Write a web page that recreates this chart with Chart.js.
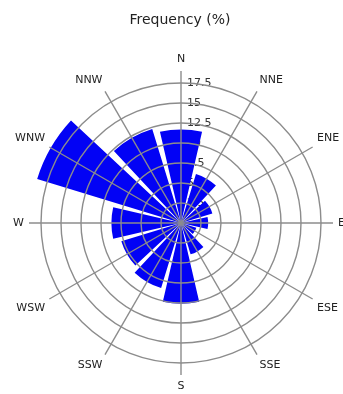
<!DOCTYPE html>
<html>
<head>
<meta charset="utf-8">
<title>Frequency (%)</title>
<script src="https://cdn.jsdelivr.net/npm/chart.js@4.4.1/dist/chart.umd.min.js"></script>
<style>
  html, body { margin: 0; padding: 0; background: #ffffff; overflow: hidden; }
  #wrap { width: 343px; height: 394px; overflow: hidden; position: relative; }
  canvas { position: absolute; left: 0; top: 0; }
</style>
</head>
<body>
<div id="wrap"><canvas id="rose" width="370" height="394"></canvas></div>
<script>
// Wind directions, clockwise from north (30° sectors)
const DIRECTIONS = ['N', 'NNE', 'ENE', 'E', 'ESE', 'SSE', 'S', 'SSW', 'WSW', 'W', 'WNW', 'NNW'];
// Frequency of each direction, in percent
const FREQUENCY = [11.7, 6.4, 4.1, 3.4, 2.0, 4.1, 10.1, 8.5, 7.8, 8.7, 18.8, 12.3];
// Ring labels along the north spoke
const RING_TICKS = ['2.5', '5', '7.5', '10', '12.5', '15', '17.5'];
const RADIAL_MAX = 19;

const FONT = 'DejaVu Sans';
const GRID = '#8c8c8c';
const BAR_COLOR = 'rgb(2,2,245)';
const BAR_SHARE = 26 / 30; // part of each sector filled by its bar

// Centre every bar on its direction and leave a wedge-shaped gap between bars
const centredSectors = {
  id: 'centredSectors',
  afterDatasetsUpdate(chart) {
    chart.getDatasetMeta(0).data.forEach(arc => {
      const half = (arc.endAngle - arc.startAngle) / 2 * BAR_SHARE;
      const dir = arc.startAngle;
      arc.startAngle = dir - half;
      arc.endAngle = dir + half;
    });
  }
};

// Ring values printed just right of the north spoke, beneath the bars
const ringLabels = {
  id: 'ringLabels',
  beforeDatasetsDraw(chart) {
    const s = chart.scales.r;
    const ctx = chart.ctx;
    ctx.save();
    ctx.font = '11px "' + FONT + '"';
    ctx.fillStyle = '#333333';
    ctx.textAlign = 'left';
    ctx.textBaseline = 'middle';
    RING_TICKS.forEach(t => {
      const d = s.getDistanceFromCenterForValue(parseFloat(t));
      ctx.fillText(t, s.xCenter + 6, s.yCenter - d);
    });
    ctx.restore();
  }
};

new Chart(document.getElementById('rose'), {
  type: 'polarArea',
  data: {
    labels: DIRECTIONS,
    datasets: [{
      data: FREQUENCY,
      backgroundColor: BAR_COLOR,
      borderWidth: 0
    }]
  },
  options: {
    responsive: false,
    animation: false,
    events: [],
    layout: { padding: { left: 0, right: 10, top: 0, bottom: 0 } },
    plugins: {
      legend: { display: false },
      tooltip: { enabled: false },
      title: {
        display: true,
        text: 'Frequency (%)',
        color: '#222222',
        font: { family: FONT, size: 14, weight: 'normal' },
        padding: { top: 12, bottom: 24 }
      }
    },
    scales: {
      r: {
        min: 0,
        max: RADIAL_MAX,
        startAngle: 0,
        ticks: { display: false, stepSize: 2.5 },
        grid: {
          z: 1, // rings and spokes are drawn over the bars
          circular: true,
          lineWidth: 1.4,
          color: c => (c.tick && c.tick.value > 17.5) ? 'rgba(0,0,0,0)' : GRID
        },
        angleLines: { display: true, color: GRID, lineWidth: 1.4 },
        pointLabels: {
          display: true,
          color: '#222222',
          padding: 5,
          font: { family: FONT, size: 11 }
        }
      }
    }
  },
  plugins: [centredSectors, ringLabels]
});
</script>
</body>
</html>
